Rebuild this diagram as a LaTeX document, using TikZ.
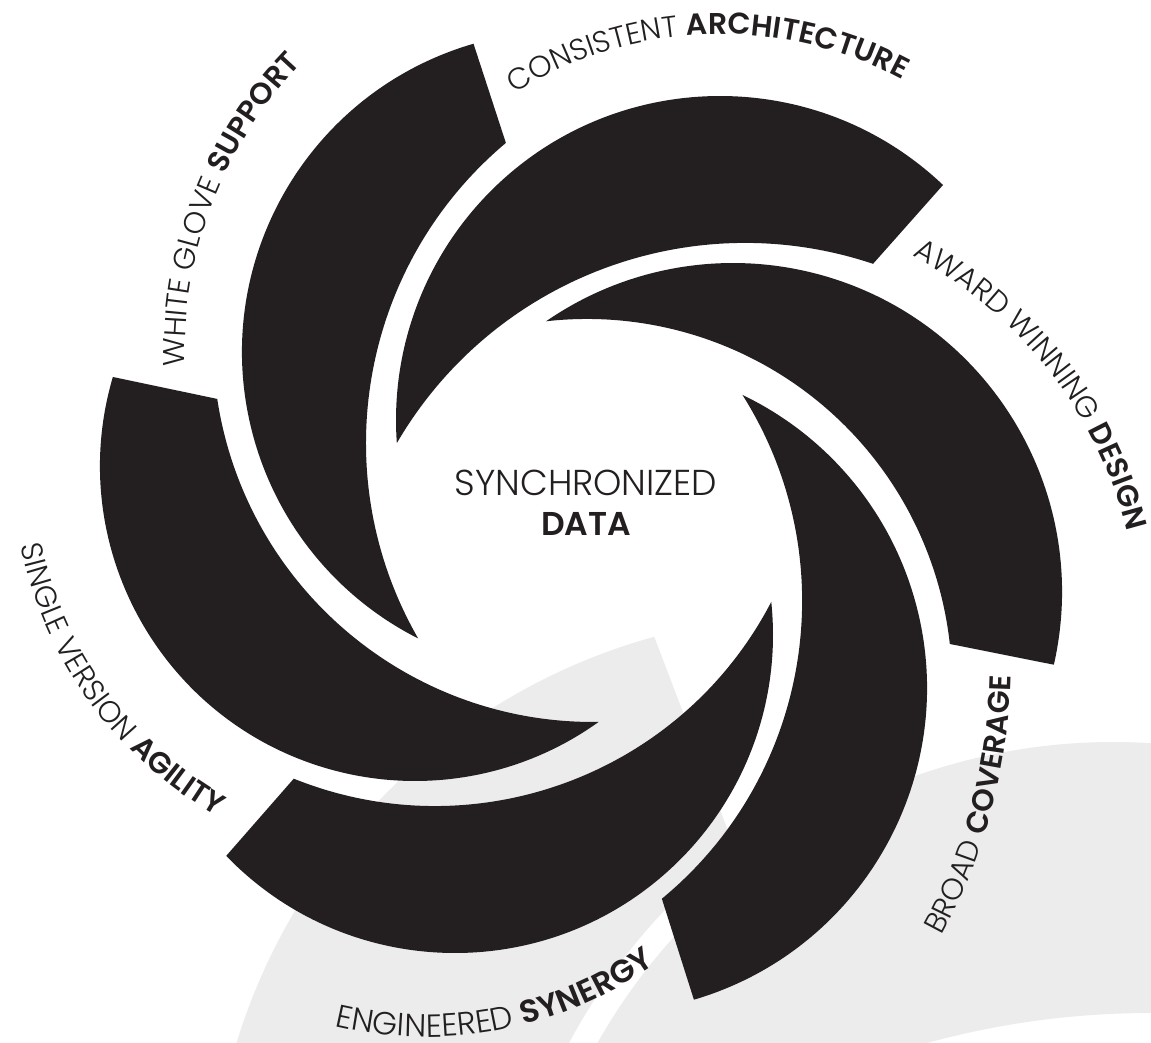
\documentclass[tikz,border=0pt]{standalone}
\usepackage{fontspec}
\usetikzlibrary{decorations.text}
\newfontfamily\lightf{Poppins Light}
\newfontfamily\boldf{Poppins SemiBold}
\definecolor{ink}{HTML}{231F20}
\definecolor{shade}{HTML}{ECECEC}
\newcommand\lblL{\lightf\fontsize{30}{30}\selectfont\color{ink}}
\newcommand\lblB{\boldf\fontsize{30}{30}\selectfont\color{ink}}
\newcommand\lblLw{\lightf\fontsize{32}{32}\selectfont\color{ink}}
\newcommand\lblBw{\boldf\fontsize{32}{32}\selectfont\color{ink}}
\begin{document}
\begin{tikzpicture}[x=1pt,y=-1pt,
  blade/.style={fill=ink},
  ghost/.style={fill=shade},
  lbl/.style={decorate, decoration={text along path, text align=center, text={#1}}}]
\useasboundingbox (0,0) rectangle (1151,1043);
\clip (0,0) rectangle (1151,1043);
\fill[white] (0,0) rectangle (1151,1043);
% background grey blades
\fill[ghost] (815,1220) ++(254.59:605) arc[start angle=254.59, end angle=140, radius=605]
  -- (533.2,1123.0) arc[start angle=200, end angle=232.12, radius=617] -- cycle;
\fill[ghost] (1113,1334) ++(300:592) arc[start angle=300, end angle=200, radius=592]
  -- (861.3,1063.9) arc[start angle=250, end angle=290, radius=844] -- cycle;
% black blades
\fill[blade] (563,352) ++(253.81:321) arc[start angle=253.81, end angle=116.82, radius=321]
  arc[start angle=150.10, end angle=229.97, radius=392] -- cycle;
\fill[blade] (720,420) ++(313.50:324) arc[start angle=313.50, end angle=175.91, radius=324]
  arc[start angle=210.22, end angle=288.52, radius=403] -- cycle;
\fill[blade] (733,592) ++(12.77:329) arc[start angle=12.77, end angle=-124.62, radius=329]
  arc[start angle=-96.44, end angle=-6.29, radius=365] -- cycle;
\fill[blade] (602,688) ++(73.57:325) arc[start angle=73.57, end angle=-64.39, radius=325]
  arc[start angle=-32.28, end angle=50.46, radius=386] -- cycle;
\fill[blade] (455,635) ++(136.01:318) arc[start angle=136.01, end angle=-5.98, radius=318]
  arc[start angle=27.48, end angle=111.89, radius=379] -- cycle;
\fill[blade] (415,466) ++(196.42:315) arc[start angle=196.42, end angle=54.34, radius=315]
  arc[start angle=89.14, end angle=171.38, radius=380] -- cycle;
% labels
\path[lbl={|\lblL|WHITE GLOVE |\lblB|SUPPORT}]
  (600,352) ++(161:415) arc[start angle=161, end angle=241, radius=415];
\path[lbl={|\lblL|CONSISTENT |\lblB|ARCHITECTURE}]
  (720,420) ++(228:386) arc[start angle=228, end angle=308, radius=386];
\path[lbl={|\lblL|AWARD WINNING |\lblB|DESIGN}]
  (711,635) ++(282:429) arc[start angle=282, end angle=362, radius=429];
\path[lbl={|\lblL|BROAD |\lblB|COVERAGE}]
  (450,665) ++(45:561) arc[start angle=45, end angle=-15, radius=561];
\path[lbl={|\lblLw|ENGINEERED |\lblBw|SYNERGY}]
  (426,641) ++(119:396) arc[start angle=119, end angle=39, radius=396];
\path[lbl={|\lblL|SINGLE VERSION |\lblB|AGILITY}]
  (415,466) ++(184:402) arc[start angle=184, end angle=104, radius=402];
% centre
\node[anchor=base, text=ink, inner sep=0pt, font=\lightf\fontsize{36}{36}\selectfont] (syn) at (586,495) {SYNCHRONIZED};
\node[anchor=base, text=ink, inner sep=0pt, font=\boldf\fontsize{33}{33}\selectfont] (data) at (586,535) {DATA};
\end{tikzpicture}
\end{document}
